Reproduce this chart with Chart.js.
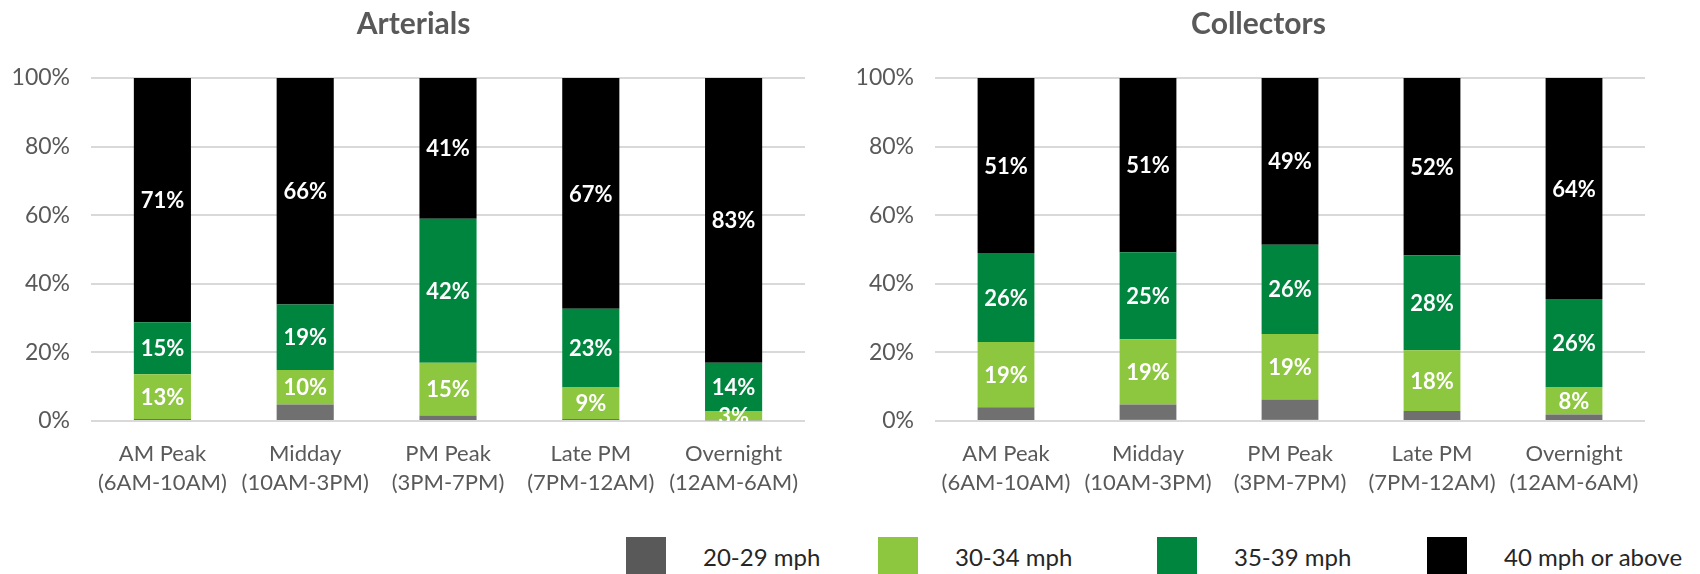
<!DOCTYPE html>
<html>
<head>
<meta charset="utf-8">
<script src="https://cdn.jsdelivr.net/npm/chart.js@4"></script>
<style>
  body { margin: 0; background: #fff; width: 1700px; height: 574px; overflow: hidden; position: relative; font-family: Lato, sans-serif; }
  canvas { position: absolute; top: 0; }
  #left { left: 0; }
  #right { left: 850px; }
  .item { position: absolute; top: 537px; display: flex; align-items: flex-start; }
  .swatch { width: 40px; height: 40px; margin-right: 37px; }
  .label { font-size: 24px; color: #262626; line-height: 40px; white-space: nowrap; }
</style>
</head>
<body>
<canvas id="left" width="830" height="500"></canvas>
<canvas id="right" width="820" height="500"></canvas>
<script>
// time periods on the x axis (two lines each)
const periods = [
  ["AM Peak", "(6AM-10AM)"],
  ["Midday", "(10AM-3PM)"],
  ["PM Peak", "(3PM-7PM)"],
  ["Late PM", "(7PM-12AM)"],
  ["Overnight", "(12AM-6AM)"]
];

// share of travel by speed band, in %
const arterialsUnder20 = [0, 0, 0, 0, 0];
const arterials2029 = [0.6, 4.8, 1.6, 0.6, 0.2];
const arterials3034 = [13.0, 10.1, 15.4, 9.2, 2.6];
const arterials3539 = [15.2, 19.1, 42.0, 22.9, 14.2];
const arterials40 = [71.2, 66.0, 41.0, 67.3, 83.0];

const collectorsUnder20 = [0, 0.4, 0.4, 0.3, 0];
const collectors2029 = [4.0, 4.4, 5.9, 2.6, 1.9];
const collectors3034 = [19.0, 19.0, 19.1, 17.7, 7.9];
const collectors3539 = [26.0, 25.4, 26.0, 27.7, 25.8];
const collectors40 = [51.0, 50.8, 48.6, 51.7, 64.4];

const yTicks = [0, 20, 40, 60, 80, 100];

const bands = [
  { name: "Under 20 mph", color: "#00853E", legend: false, labels: false },
  { name: "20-29 mph", color: "#707070", swatch: "#595959", legend: true, labels: false },
  { name: "30-34 mph", color: "#8DC63F", legend: true, labels: true },
  { name: "35-39 mph", color: "#00853E", legend: true, labels: true },
  { name: "40 mph or above", color: "#000000", legend: true, labels: true }
];

const textGrey = "#595959";
const font = "Lato";

// white value labels in the middle of each segment
const segmentLabels = {
  id: "segmentLabels",
  afterDatasetsDraw(chart) {
    const ctx = chart.ctx;
    const area = chart.chartArea;
    ctx.save();
    ctx.beginPath();
    ctx.rect(area.left, area.top, area.right - area.left, area.bottom - area.top);
    ctx.clip();
    ctx.fillStyle = "#ffffff";
    ctx.font = "bold 22px " + font;
    ctx.textAlign = "center";
    ctx.textBaseline = "middle";
    chart.data.datasets.forEach((ds, i) => {
      if (!ds.showLabels) return;
      chart.getDatasetMeta(i).data.forEach((bar, j) => {
        const v = ds.data[j];
        if (v < 1) return;
        ctx.fillText(Math.round(v) + "%", bar.x, (bar.y + bar.base) / 2 + 1);
      });
    });
    ctx.restore();
  }
};

// title sits a bit right of the canvas centre
const titleNudge = {
  id: "titleNudge",
  afterLayout(chart, args, opts) {
    if (!chart.titleBlock) return;
    chart.titleBlock.left += opts.shift;
    chart.titleBlock.right += opts.shift;
  }
};

function makeChart(id, title, series, axisWidth) {
  new Chart(document.getElementById(id), {
    type: "bar",
    data: {
      labels: periods,
      datasets: bands.map((b, i) => ({
        label: b.name,
        data: series[i],
        backgroundColor: b.color,
        borderWidth: 0,
        barPercentage: 0.4,
        categoryPercentage: 1,
        showLabels: b.labels
      }))
    },
    options: {
      responsive: false,
      animation: false,
      layout: { padding: { right: 25 } },
      plugins: {
        legend: { display: false },
        tooltip: { enabled: false },
        titleNudge: { shift: 11 },
        title: {
          display: true,
          text: title,
          color: textGrey,
          font: { family: font, size: 30, weight: "bold" },
          padding: { top: 6, bottom: 36 }
        }
      },
      scales: {
        x: {
          stacked: true,
          grid: { display: false },
          border: { display: false },
          ticks: {
            color: textGrey,
            font: { family: font, size: 22, lineHeight: 1.32 },
            padding: 10,
            maxRotation: 0
          },
          afterFit(scale) { scale.height = 79; }
        },
        y: {
          stacked: true,
          min: 0,
          max: 100,
          afterBuildTicks(scale) { scale.ticks = yTicks.map(v => ({ value: v })); },
          grid: { color: "#d9d9d9", lineWidth: 2, drawTicks: false },
          border: { display: false },
          ticks: {
            color: textGrey,
            font: { family: font, size: 23 },
            padding: 21,
            callback: v => v + "%"
          },
          afterFit(scale) { scale.width = axisWidth; }
        }
      }
    },
    plugins: [segmentLabels, titleNudge]
  });
}

makeChart("left", "Arterials",
  [arterialsUnder20, arterials2029, arterials3034, arterials3539, arterials40], 91);
makeChart("right", "Collectors",
  [collectorsUnder20, collectors2029, collectors3034, collectors3539, collectors40], 85);

// shared legend under both charts
const legendLeft = [626, 878, 1157, 1427];
bands.filter(b => b.legend).forEach((b, i) => {
  const item = document.createElement("div");
  item.className = "item";
  item.style.left = legendLeft[i] + "px";
  item.innerHTML = '<div class="swatch" style="background:' + (b.swatch || b.color) + '"></div>' +
    '<div class="label">' + b.name + '</div>';
  document.body.appendChild(item);
});
</script>
</body>
</html>
